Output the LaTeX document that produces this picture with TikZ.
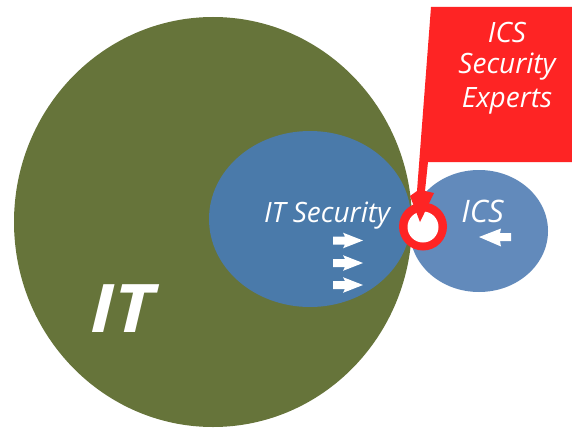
\documentclass[tikz,border=0pt]{standalone}
\usepackage{fontspec}
\setmainfont{Open Sans}
\definecolor{itgreen}{RGB}{102,116,58}
\definecolor{secblue}{RGB}{74,122,170}
\definecolor{icsblue}{RGB}{98,138,187}
\definecolor{alertred}{RGB}{254,36,36}
\tikzset{
  label/.style={text=white, font=\itshape, inner sep=0pt, anchor=base},
  whitearrow/.style={fill=white, draw=none},
}
\begin{document}
\begin{tikzpicture}[x=1pt, y=-1pt]
  \useasboundingbox (0,0) rectangle (572,428);
  \clip (0,0) rectangle (572,428);
  \fill[white] (0,0) rectangle (572,428);

  % the three domains
  \fill[itgreen] (213,222) ellipse [x radius=199, y radius=205];
  \fill[secblue] (310,219) ellipse [x radius=101, y radius=88];
  \fill[icsblue] (479,231) ellipse [x radius=69, y radius=61];

  % ring marking the meeting point
  \fill[alertred] (423,226.5) circle [radius=24];
  \fill[white] (423,227) circle [radius=15.5];

  % callout box with its pointer
  \fill[alertred] (431,7) -- (572,7) -- (572,162) -- (428,162) -- (425,191)
    -- (434,193) -- (420,222) -- (410,196) -- (417,191) -- cycle;

  % arrows moving towards the meeting point
  \foreach \yy in {240.5,263,285} {
    \fill[whitearrow] (333,\yy-4) -- (345,\yy-4) -- (343,\yy-7.8) -- (363,\yy)
      -- (343,\yy+7.8) -- (345,\yy+4) -- (333,\yy+4) -- cycle;
  }
  \fill[whitearrow] (511,233) -- (500,233) -- (501,228.5) -- (479,237)
    -- (501,246.5) -- (500,241) -- (511,241) -- cycle;

  % labels
  \node[label, font=\itshape\fontsize{28}{28}\selectfont] (itsec) at (327,222) {IT Security};
  \node[label, font=\itshape\fontsize{31}{31}\selectfont] (ics) at (482.5,222) {ICS};
  \node[label, font=\bfseries\itshape\fontsize{67}{67}\selectfont] (it) at (122,332) {\scalebox{1.12}[1]{IT}};
  \node[label, font=\itshape\fontsize{28}{28}\selectfont] (c1) at (507,43) {ICS};
  \node[label, font=\itshape\fontsize{28}{28}\selectfont] (c2) at (507,74) {Security};
  \node[label, font=\itshape\fontsize{28}{28}\selectfont] (c3) at (507,107) {Experts};
\end{tikzpicture}
\end{document}
